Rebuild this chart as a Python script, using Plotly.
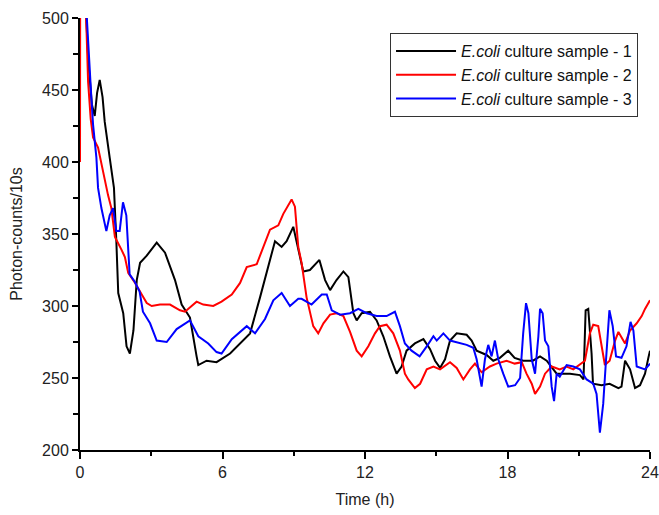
import plotly.graph_objects as go

# ---- data ----
t1 = [0.15, 0.35, 0.5, 0.62, 0.72, 0.83, 0.95, 1.04, 1.25, 1.43, 1.53, 1.61, 1.82, 1.96, 2.1, 2.25, 2.39, 2.53,
      2.81, 3.23, 3.58, 4.0, 4.28, 4.63, 4.91, 4.98, 5.33, 5.75, 6.32, 6.74, 7.16, 7.58, 8.0, 8.21, 8.49, 8.7,
      8.98, 9.19, 9.4, 9.68, 10.08, 10.32, 10.53, 10.8, 11.09, 11.3, 11.51, 11.65, 11.86, 12.21, 12.49, 12.77,
      13.05, 13.33, 13.54, 13.75, 14.1, 14.46, 14.74, 14.95, 15.16, 15.37, 15.58, 15.86, 16.28, 16.49, 16.7,
      17.12, 17.4, 17.68, 18.03, 18.3, 18.66, 19.07, 19.37, 19.65, 20.07, 20.63, 21.05, 21.2, 21.29, 21.4,
      21.54, 21.6, 21.96, 22.3, 22.67, 22.8, 22.95, 23.16, 23.37, 23.58, 23.79, 23.93, 24.0]
v1 = [540, 470, 440, 432, 448, 457, 445, 428, 403, 382, 345, 309, 295, 272, 267, 283, 318, 330,
      335, 344, 337, 318, 301, 292, 265, 259, 262, 261, 267, 274, 281, 306, 332, 345, 341, 345,
      355, 339, 324, 325, 332, 318, 311, 318, 324, 320, 295, 290, 295, 296, 290, 279,
      265, 253, 258, 269, 274, 277, 270, 262, 257, 263, 276, 281, 280, 276, 269,
      266, 262, 264, 269, 264, 262, 262, 265, 262, 253, 253, 252, 249, 297, 298,
      267, 246, 245, 246, 243, 244, 262, 256, 243, 245, 253, 264, 269]

t2 = [0.0, 0.01, 0.25, 0.34, 0.45, 0.55, 0.76, 0.97, 1.18, 1.32, 1.47, 1.75, 1.89, 2.03, 2.32, 2.6, 2.81,
      3.02, 3.37, 3.79, 4.21, 4.42, 4.56, 4.91, 5.19, 5.61, 5.96, 6.39, 6.74, 7.02, 7.44, 7.72, 8.0, 8.35,
      8.56, 8.91, 9.05, 9.19, 9.33, 9.54, 9.82, 10.03, 10.25, 10.53, 10.8, 11.09, 11.37, 11.65, 11.86,
      12.14, 12.42, 12.63, 12.91, 13.19, 13.47, 13.68, 13.82, 14.1, 14.32, 14.6, 14.88, 15.16, 15.58,
      15.86, 16.14, 16.42, 16.63, 16.91, 17.26, 17.54, 17.96, 18.3, 18.6, 18.8, 19.02, 19.16, 19.37,
      19.58, 19.86, 20.2, 20.49, 20.77, 21.12, 21.26, 21.47, 21.61, 21.82, 21.96, 22.1, 22.3, 22.53,
      22.67, 22.95, 23.16, 23.44, 23.65, 23.79, 24.0]
v2 = [400, 560, 505, 456, 430, 417, 410, 393, 377, 368, 348, 339, 334, 323, 316, 308, 302,
      300, 301, 301, 297, 296, 298, 303, 301, 300, 303, 308, 316, 327, 329, 341, 353, 356,
      364, 374, 369, 341, 330, 306, 286, 281, 288, 294, 295, 293, 282, 269, 265,
      272, 281, 286, 287, 281, 269, 253, 249, 243, 246, 256, 258, 256, 261,
      257, 249, 256, 260, 254, 258, 260, 262, 260, 261, 253, 246, 239, 244,
      253, 258, 256, 258, 256, 260, 262, 281, 287, 286, 272, 259, 262, 276,
      282, 274, 283, 288, 293, 298, 304]

t3 = [0.15, 0.34, 0.48, 0.55, 0.69, 0.76, 0.9, 1.11, 1.25, 1.39, 1.53, 1.67, 1.81, 1.95, 2.09, 2.3, 2.51,
      2.65, 2.95, 3.23, 3.65, 4.07, 4.63, 4.98, 5.4, 5.75, 5.96, 6.39, 7.02, 7.37, 7.79, 8.14, 8.49, 8.84,
      9.19, 9.33, 9.75, 10.18, 10.39, 10.6, 10.95, 11.37, 11.72, 12.07, 12.49, 12.91, 13.26, 13.47, 13.68,
      13.96, 14.3, 14.6, 14.88, 15.02, 15.3, 15.58, 16.0, 16.28, 16.56, 16.7, 16.91, 17.05, 17.19, 17.33,
      17.47, 17.61, 17.82, 18.03, 18.32, 18.53, 18.66, 18.78, 18.88, 19.02, 19.16, 19.3, 19.37, 19.48,
      19.58, 19.72, 19.86, 19.96, 20.07, 20.2, 20.49, 20.77, 21.05, 21.33, 21.61, 21.75, 21.89, 22.03,
      22.15, 22.29, 22.43, 22.57, 22.8, 23.01, 23.18, 23.3, 23.44, 23.65, 23.79, 24.0]
v3 = [540, 479, 444, 426, 403, 382, 368, 352, 363, 368, 352, 352, 372, 363, 322, 317, 310,
      296, 288, 276, 275, 284, 290, 279, 274, 268, 267, 277, 286, 281, 291, 304, 309, 300,
      305, 305, 301, 308, 308, 297, 294, 295, 298, 295, 293, 293, 296, 286, 274,
      269, 265, 272, 279, 276, 281, 276, 274, 273, 271, 263, 244, 263, 273, 265,
      276, 263, 253, 244, 245, 250, 281, 302, 295, 263, 253, 279, 298, 295,
      276, 272, 244, 234, 253, 251, 259, 258, 256, 249, 246, 239, 212, 232,
      263, 297, 286, 265, 264, 272, 289, 283, 258, 257, 256, 260]

names = ["<i>E.coli</i> culture sample - 1",
         "<i>E.coli</i> culture sample - 2",
         "<i>E.coli</i> culture sample - 3"]
colors = ["#000000", "#ff0000", "#0000ff"]

x_ticks = [0, 6, 12, 18, 24]
y_ticks = [200, 250, 300, 350, 400, 450, 500]

FONT = "Liberation Sans, Arial, sans-serif"

fig = go.Figure()
for t, v, n, c in zip([t1, t2, t3], [v1, v2, v3], names, colors):
    fig.add_trace(go.Scatter(x=t, y=v, mode="lines", name=n,
                             line=dict(color=c, width=2)))

fig.update_layout(
    width=659, height=515,
    margin=dict(l=80, r=9, t=18, b=65, autoexpand=False),
    paper_bgcolor="white", plot_bgcolor="white",
    font=dict(family=FONT, size=16, color="#222"),
    showlegend=True,
    legend=dict(x=0.979, xanchor="right", y=0.965, yanchor="top",
                bgcolor="white", bordercolor="#333", borderwidth=1,
                font=dict(family=FONT, size=16, color="#111"),
                itemwidth=60, tracegroupgap=0),
)
fig.update_xaxes(range=[0, 24], tickvals=x_ticks, showgrid=False, zeroline=False,
                 automargin=False,
                 showline=True, linecolor="black", linewidth=2,
                 ticks="outside", ticklen=7, tickwidth=2, tickcolor="black",
                 minor=dict(tickvals=[3, 9, 15, 21], ticks="outside", ticklen=4,
                            tickwidth=2, tickcolor="black"),
                 title=dict(text="Time (h)", font=dict(size=16), standoff=14))
fig.update_yaxes(range=[200, 500], tickvals=y_ticks, showgrid=False, zeroline=False,
                 automargin=False,
                 showline=True, linecolor="black", linewidth=2,
                 ticks="outside", ticklen=6, tickwidth=2, tickcolor="black",
                 minor=dict(tickvals=[225, 275, 325, 375, 425, 475], ticks="outside",
                            ticklen=5, tickwidth=2, tickcolor="black"),
                 title=dict(text="Photon-counts/10s", font=dict(size=16), standoff=15))

fig.write_html("out.html")
